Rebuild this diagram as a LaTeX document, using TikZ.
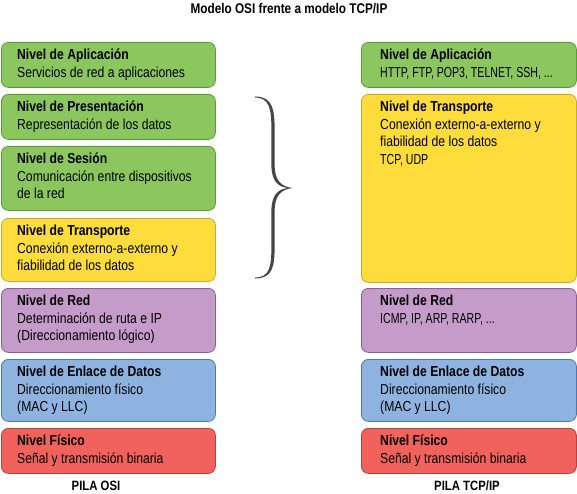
\documentclass[tikz,border=0pt]{standalone}
\usepackage{fontspec}
\setmainfont{Liberation Sans}[FakeStretch=0.84]
\newfontfamily\mayus{Liberation Sans}[FakeStretch=0.73]
\usepackage{xcolor}

\definecolor{verde}{HTML}{8CC65E}
\definecolor{verdeb}{HTML}{5A9A3C}
\definecolor{amarillo}{HTML}{FDDC3C}
\definecolor{amarillob}{HTML}{C9A92E}
\definecolor{morado}{HTML}{C49BC9}
\definecolor{moradob}{HTML}{8A5E90}
\definecolor{azul}{HTML}{8FB3E0}
\definecolor{azulb}{HTML}{4F78A8}
\definecolor{rojo}{HTML}{F0625B}
\definecolor{rojob}{HTML}{B5433D}
\definecolor{llave}{HTML}{454545}

\begin{document}
\begin{tikzpicture}[x=1pt, y=-1pt,
  capa/.style={draw, rounded corners=7pt, line width=0.8pt, anchor=north west, inner sep=0pt},
  osi/.style={capa, minimum width=214pt},
  tcp/.style={capa, minimum width=215pt},
  txt/.style={anchor=north west, align=left, inner sep=0pt, font=\fontsize{14.5}{17.5}\selectfont},
  pie/.style={font=\bfseries\fontsize{13.5}{15}\selectfont}]
\useasboundingbox (0,0) rectangle (577,494);

\node[font=\bfseries\fontsize{14}{15}\selectfont] (titulo) at (289,9) {Modelo OSI frente a modelo TCP/IP};

% pila OSI
\node[osi, fill=verde, draw=verdeb, minimum height=45pt] (osiapl) at (1,42) {};
\node[osi, fill=verde, draw=verdeb, minimum height=45pt] (osipre) at (1,94) {};
\node[osi, fill=verde, draw=verdeb, minimum height=64pt] (osises) at (1,146) {};
\node[osi, fill=amarillo, draw=amarillob, minimum height=63pt] (ositra) at (1,218) {};
\node[osi, fill=morado, draw=moradob, minimum height=64pt] (osired) at (1,288) {};
\node[osi, fill=azul, draw=azulb, minimum height=62pt] (osienl) at (1,359) {};
\node[osi, fill=rojo, draw=rojob, minimum height=45pt] (osifis) at (1,428) {};

\node[txt] (tosiapl) at ([shift={(16,7)}]osiapl.north west) {\textbf{Nivel de Aplicación}\\Servicios de red a aplicaciones};
\node[txt] (tosipre) at ([shift={(16,7)}]osipre.north west) {\textbf{Nivel de Presentación}\\Representación de los datos};
\node[txt] (tosises) at ([shift={(16,7)}]osises.north west) {\textbf{Nivel de Sesión}\\Comunicación entre dispositivos\\de la red};
\node[txt] (tositra) at ([shift={(16,7)}]ositra.north west) {\textbf{Nivel de Transporte}\\Conexión externo-a-externo y\\fiabilidad de los datos};
\node[txt] (tosired) at ([shift={(16,7)}]osired.north west) {\textbf{Nivel de Red}\\Determinación de ruta e IP\\(Direccionamiento lógico)};
\node[txt] (tosienl) at ([shift={(16,7)}]osienl.north west) {\textbf{Nivel de Enlace de Datos}\\Direccionamiento físico\\(MAC y LLC)};
\node[txt] (tosifis) at ([shift={(16,7)}]osifis.north west) {\textbf{Nivel Físico}\\Señal y transmisión binaria};

% pila TCP/IP
\node[tcp, fill=verde, draw=verdeb, minimum height=45pt] (tcpapl) at (361,42) {};
\node[tcp, fill=amarillo, draw=amarillob, minimum height=188pt] (tcptra) at (361,94) {};
\node[tcp, fill=morado, draw=moradob, minimum height=64pt] (tcpred) at (361,288) {};
\node[tcp, fill=azul, draw=azulb, minimum height=62pt] (tcpenl) at (361,359) {};
\node[tcp, fill=rojo, draw=rojob, minimum height=45pt] (tcpfis) at (361,428) {};

\node[txt] (ttcpapl) at ([shift={(19,7)}]tcpapl.north west) {\textbf{Nivel de Aplicación}\\{\mayus HTTP, FTP, POP3, TELNET, SSH, ...}};
\node[txt] (ttcptra) at ([shift={(19,7)}]tcptra.north west) {\textbf{Nivel de Transporte}\\Conexión externo-a-externo y\\fiabilidad de los datos\\{\mayus TCP, UDP}};
\node[txt] (ttcpred) at ([shift={(19,7)}]tcpred.north west) {\textbf{Nivel de Red}\\{\mayus ICMP, IP, ARP, RARP, ...}};
\node[txt] (ttcpenl) at ([shift={(19,7)}]tcpenl.north west) {\textbf{Nivel de Enlace de Datos}\\Direccionamiento físico\\(MAC y LLC)};
\node[txt] (ttcpfis) at ([shift={(19,7)}]tcpfis.north west) {\textbf{Nivel Físico}\\Señal y transmisión binaria};

% llave
\fill[llave]
  (255,96.5) .. controls (273,96.5) and (274.6,110) .. (274.6,130) -- (274.6,165)
  .. controls (274.6,180) and (281,187) .. (293,188)
  .. controls (281,189) and (274.6,196) .. (274.6,211) -- (274.6,246)
  .. controls (274.6,266) and (273,278.5) .. (255,278.5)
  -- (255,277.5) .. controls (270,277.5) and (271.4,266) .. (271.4,246) -- (271.4,211)
  .. controls (271.4,195) and (278,189) .. (288,188)
  .. controls (278,187) and (271.4,181) .. (271.4,165) -- (271.4,130)
  .. controls (271.4,110) and (270,97.5) .. (255,97.5) -- cycle;

\node[pie] (pilaosi) at (96,486) {PILA OSI};
\node[pie] (pilatcp) at (467,486) {PILA TCP/IP};
\end{tikzpicture}
\end{document}
